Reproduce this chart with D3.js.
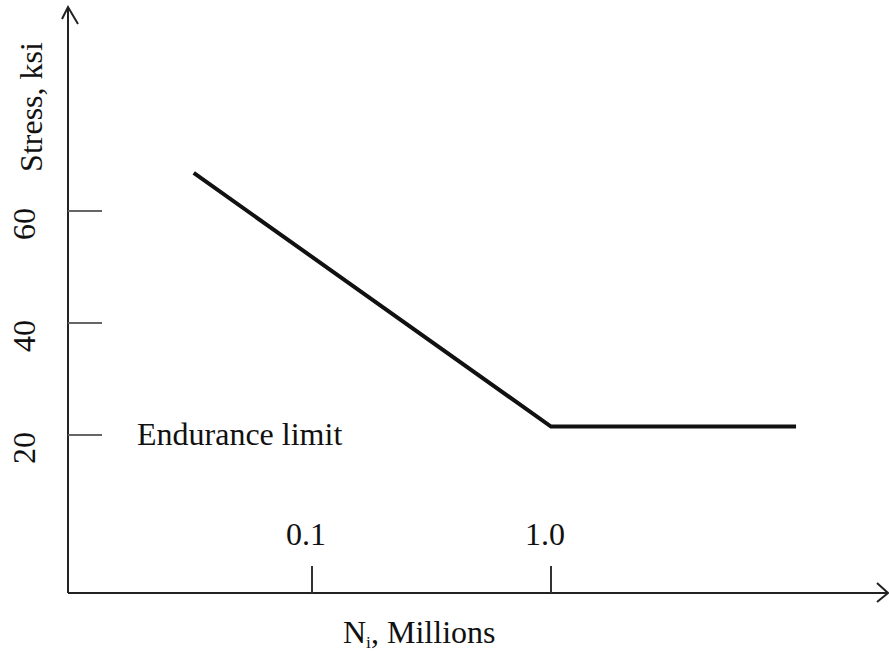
<!DOCTYPE html>
<html>
<head>
<meta charset="utf-8">
<script src="https://cdn.jsdelivr.net/npm/d3@7/dist/d3.min.js"></script>
<style>
  html, body { margin: 0; padding: 0; background: #fff; }
  svg text { font-family: "Liberation Serif", "Times New Roman", serif; fill: #111; }
</style>
</head>
<body>
<svg id="chart" width="889" height="651"></svg>
<script>
// ---- data ----
const cyclesMillions = [0.032, 1.0, 10.6];   // N_i, millions
const stressKsi      = [66.8, 21.5, 21.5];   // stress, ksi
const xTickValues    = [0.1, 1.0];
const xTickLabels    = ["0.1", "1.0"];
const yTickValues    = [20, 40, 60];
const yTickLabels    = ["20", "40", "60"];
const annotation     = "Endurance limit";

// ---- layout ----
const svg = d3.select("#chart");
const axisX0 = 68, axisY0 = 593, axisXEnd = 888, axisYEnd = 7;
const fontSize = 32;

const x = d3.scaleLog().domain([0.1, 1.0]).range([312, 551]);
const y = d3.scaleLinear().domain([20, 60]).range([435, 211]);

// axes lines
svg.append("line").attr("x1", axisX0).attr("y1", axisY0).attr("x2", axisXEnd).attr("y2", axisY0)
  .attr("stroke", "#222").attr("stroke-width", 2);
svg.append("line").attr("x1", axisX0).attr("y1", axisY0).attr("x2", axisX0).attr("y2", axisYEnd)
  .attr("stroke", "#222").attr("stroke-width", 2);

// arrowheads (open chevrons)
svg.append("path").attr("d", `M${axisX0 - 6},${axisYEnd + 12} L${axisX0},${axisYEnd} L${axisX0 + 10},${axisYEnd + 17}`)
  .attr("fill", "none").attr("stroke", "#222").attr("stroke-width", 2);
svg.append("path").attr("d", `M${axisXEnd - 11},${axisY0 - 10} L${axisXEnd},${axisY0} L${axisXEnd - 11},${axisY0 + 9}`)
  .attr("fill", "none").attr("stroke", "#222").attr("stroke-width", 2);

// y ticks
svg.selectAll(".ytick").data(yTickValues).enter().append("line")
  .attr("x1", axisX0).attr("x2", axisX0 + 34)
  .attr("y1", d => y(d)).attr("y2", d => y(d))
  .attr("stroke", "#666").attr("stroke-width", 2);

svg.selectAll(".ylab").data(yTickValues).enter().append("text")
  .attr("transform", d => `translate(35, ${y(d) + 13}) rotate(-90)`)
  .attr("text-anchor", "middle")
  .attr("font-size", fontSize)
  .text((d, i) => yTickLabels[i]);

// x ticks
svg.selectAll(".xtick").data(xTickValues).enter().append("line")
  .attr("x1", d => x(d)).attr("x2", d => x(d))
  .attr("y1", axisY0).attr("y2", axisY0 - 27)
  .attr("stroke", "#333").attr("stroke-width", 2);

svg.selectAll(".xlab").data(xTickValues).enter().append("text")
  .attr("x", d => x(d) - 6).attr("y", 545)
  .attr("text-anchor", "middle")
  .attr("font-size", fontSize)
  .text((d, i) => xTickLabels[i]);

// axis titles
const xt = svg.append("text").attr("x", 343).attr("y", 643).attr("font-size", fontSize);
xt.append("tspan").text("N");
xt.append("tspan").attr("font-size", fontSize * 0.55).attr("dy", 5).text("i");
xt.append("tspan").attr("dy", -5).text(", Millions");

svg.append("text")
  .attr("transform", "translate(42, 107) rotate(-90)")
  .attr("text-anchor", "middle")
  .attr("font-size", fontSize)
  .text("Stress, ksi");

// S-N curve
const pts = cyclesMillions.map((c, i) => [c, stressKsi[i]]);
svg.append("path")
  .datum(pts)
  .attr("d", d3.line().x(d => x(d[0])).y(d => y(d[1])))
  .attr("fill", "none").attr("stroke", "#111").attr("stroke-width", 4);

// annotation
svg.append("text").attr("x", 137).attr("y", 445).attr("font-size", fontSize).text(annotation);
</script>
</body>
</html>
